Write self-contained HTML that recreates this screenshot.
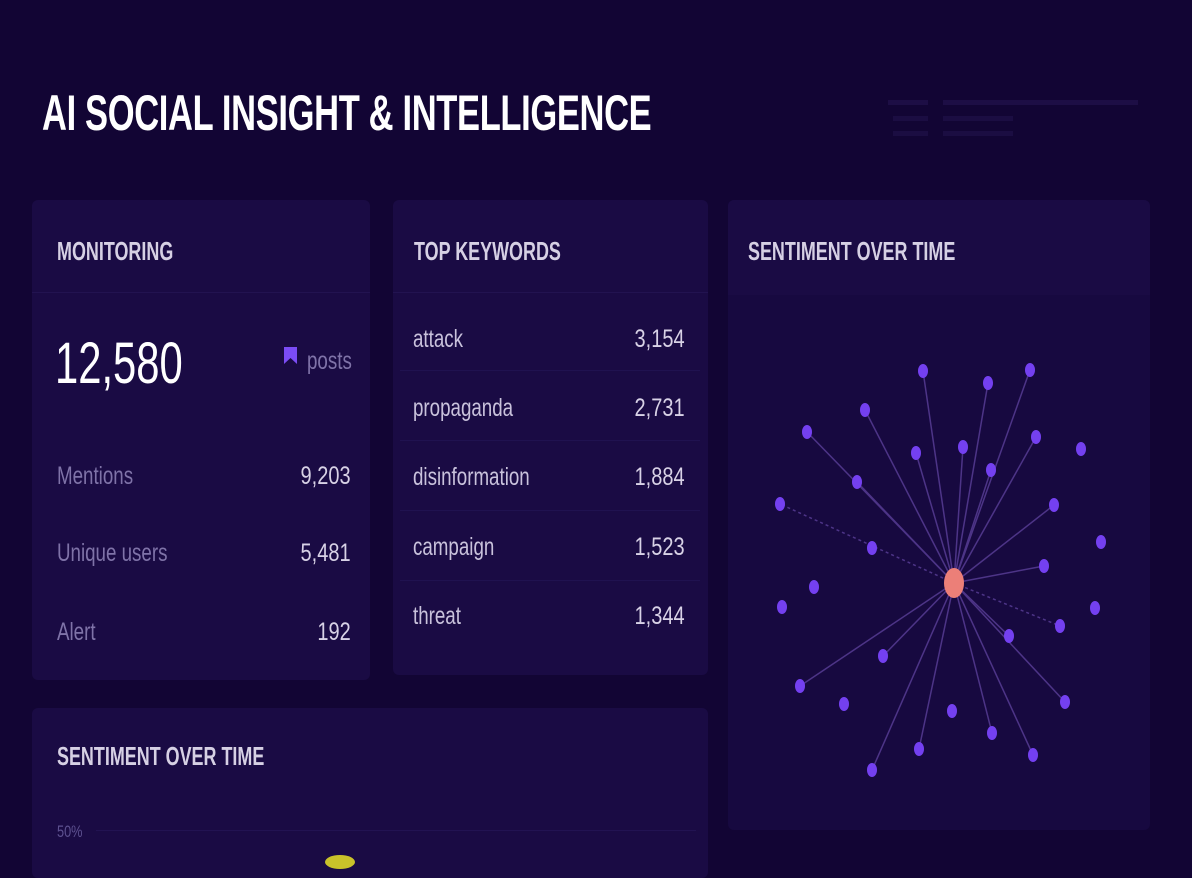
<!DOCTYPE html>
<html><head><meta charset="utf-8"><style>
body{margin:0;width:1192px;height:862px;background:#120534;overflow:hidden;position:relative;font-family:"Liberation Sans",sans-serif}
.a{position:absolute;white-space:nowrap;transform-origin:0 0}
.card{position:absolute;background:#1a0b44;border-radius:6px}
.hd{color:#d6d0e4;font-size:26px;font-weight:bold;transform:scaleX(0.69)}
.lb{color:#7f73a8;font-size:25px;transform:scaleX(0.75)}
.kw{color:#c9c2dc;font-size:25px;transform:scaleX(0.75)}
.num{color:#d8d2e6;font-size:25px;transform:scaleX(0.8);transform-origin:100% 0}
</style></head><body>
<div class="a" style="left:42px;top:84px;color:#fff;font-size:50px;font-weight:bold;transform:scaleX(0.69);letter-spacing:-0.5px">AI SOCIAL INSIGHT &amp; INTELLIGENCE</div>
<div class="a" style="left:888px;top:100px;width:40px;height:5px;background:#1d0e45"></div>
<div class="a" style="left:943px;top:100px;width:195px;height:5px;background:#1d0e45"></div>
<div class="a" style="left:893px;top:116px;width:35px;height:5px;background:#1b0d42"></div>
<div class="a" style="left:943px;top:116px;width:70px;height:5px;background:#1b0d42"></div>
<div class="a" style="left:893px;top:131px;width:35px;height:5px;background:#1b0d42"></div>
<div class="a" style="left:943px;top:131px;width:70px;height:5px;background:#1b0d42"></div>

<div class="card" style="left:32px;top:200px;width:338px;height:480px"></div>
<div class="a" style="left:32px;top:292px;width:338px;height:1px;background:#221350"></div>
<div class="card" style="left:393px;top:200px;width:315px;height:475px"></div>
<div class="a" style="left:393px;top:292px;width:315px;height:1px;background:#221350"></div>
<div class="card" style="left:728px;top:200px;width:422px;height:630px;background:#170940"></div>
<div class="a" style="left:728px;top:200px;width:422px;height:95px;background:#1a0b44;border-radius:6px 6px 0 0"></div>
<div class="card" style="left:32px;top:708px;width:676px;height:170px"></div>

<div class="a hd" style="left:57px;top:236px">MONITORING</div>
<div class="a hd" style="left:414px;top:236px">TOP KEYWORDS</div>
<div class="a hd" style="left:748px;top:236px">SENTIMENT OVER TIME</div>
<div class="a hd" style="left:57px;top:741px">SENTIMENT OVER TIME</div>

<div class="a" style="left:55px;top:330px;color:#fff;font-size:58px;transform:scaleX(0.72)">12,580</div>
<svg class="a" style="left:284px;top:347px" width="14" height="18"><path d="M0 0H13V17L6.5 11L0 17Z" fill="#7b4cf5"/></svg>
<div class="a lb" style="left:307px;top:347px">posts</div>
<div class="a lb" style="left:57px;top:462px">Mentions</div>
<div class="a lb" style="left:57px;top:539px">Unique users</div>
<div class="a lb" style="left:57px;top:618px">Alert</div>
<div class="a num" style="right:841px;top:462px">9,203</div>
<div class="a num" style="right:841px;top:539px">5,481</div>
<div class="a num" style="right:841px;top:618px">192</div>

<div class="a kw" style="left:413px;top:325px">attack</div>
<div class="a kw" style="left:413px;top:394px">propaganda</div>
<div class="a kw" style="left:413px;top:463px">disinformation</div>
<div class="a kw" style="left:413px;top:533px">campaign</div>
<div class="a kw" style="left:413px;top:602px">threat</div>
<div class="a num" style="right:507px;top:325px">3,154</div>
<div class="a num" style="right:507px;top:394px">2,731</div>
<div class="a num" style="right:507px;top:463px">1,884</div>
<div class="a num" style="right:507px;top:533px">1,523</div>
<div class="a num" style="right:507px;top:602px">1,344</div>
<div class="a" style="left:400px;top:370px;width:300px;height:1px;background:#201250"></div>
<div class="a" style="left:400px;top:440px;width:300px;height:1px;background:#201250"></div>
<div class="a" style="left:400px;top:510px;width:300px;height:1px;background:#201250"></div>
<div class="a" style="left:400px;top:580px;width:300px;height:1px;background:#201250"></div>

<div class="a" style="left:57px;top:822px;color:#5d5190;font-size:17px;transform:scaleX(0.75)">50%</div>
<div class="a" style="left:96px;top:830px;width:600px;height:1px;background:#221352"></div>
<div class="a" style="left:325px;top:855px;width:30px;height:14px;border-radius:50%;background:#c9c22a"></div>

<svg class="a" style="left:0;top:0" width="1192" height="862">
<g stroke="#6a4cae" stroke-width="1.5" opacity="0.65">
<line x1="954" y1="583" x2="923" y2="371"/><line x1="954" y1="583" x2="988" y2="383"/><line x1="954" y1="583" x2="1030" y2="370"/>
<line x1="954" y1="583" x2="865" y2="410"/><line x1="954" y1="583" x2="807" y2="432"/><line x1="954" y1="583" x2="916" y2="453"/>
<line x1="954" y1="583" x2="963" y2="447"/><line x1="954" y1="583" x2="991" y2="470"/><line x1="954" y1="583" x2="1036" y2="437"/>
<line x1="954" y1="583" x2="857" y2="482"/><line x1="954" y1="583" x2="780" y2="504" stroke-dasharray="3 3"/><line x1="954" y1="583" x2="1054" y2="505"/>
<line x1="954" y1="583" x2="1044" y2="566"/><line x1="954" y1="583" x2="1060" y2="626" stroke-dasharray="3 3"/>
<line x1="954" y1="583" x2="1009" y2="636"/><line x1="954" y1="583" x2="883" y2="656"/><line x1="954" y1="583" x2="800" y2="686"/>
<line x1="954" y1="583" x2="992" y2="733"/><line x1="954" y1="583" x2="1065" y2="702"/><line x1="954" y1="583" x2="919" y2="749"/>
<line x1="954" y1="583" x2="1033" y2="755"/><line x1="954" y1="583" x2="872" y2="770"/>
</g>
<g fill="#7440f0">
<ellipse cx="923" cy="371" rx="5" ry="7"/><ellipse cx="988" cy="383" rx="5" ry="7"/><ellipse cx="1030" cy="370" rx="5" ry="7"/>
<ellipse cx="865" cy="410" rx="5" ry="7"/><ellipse cx="807" cy="432" rx="5" ry="7"/><ellipse cx="916" cy="453" rx="5" ry="7"/>
<ellipse cx="963" cy="447" rx="5" ry="7"/><ellipse cx="991" cy="470" rx="5" ry="7"/><ellipse cx="1036" cy="437" rx="5" ry="7"/>
<ellipse cx="1081" cy="449" rx="5" ry="7"/><ellipse cx="857" cy="482" rx="5" ry="7"/><ellipse cx="780" cy="504" rx="5" ry="7"/>
<ellipse cx="1054" cy="505" rx="5" ry="7"/><ellipse cx="872" cy="548" rx="5" ry="7"/><ellipse cx="1101" cy="542" rx="5" ry="7"/>
<ellipse cx="1044" cy="566" rx="5" ry="7"/><ellipse cx="814" cy="587" rx="5" ry="7"/><ellipse cx="782" cy="607" rx="5" ry="7"/>
<ellipse cx="1060" cy="626" rx="5" ry="7"/><ellipse cx="1095" cy="608" rx="5" ry="7"/><ellipse cx="1009" cy="636" rx="5" ry="7"/>
<ellipse cx="883" cy="656" rx="5" ry="7"/><ellipse cx="800" cy="686" rx="5" ry="7"/><ellipse cx="844" cy="704" rx="5" ry="7"/>
<ellipse cx="952" cy="711" rx="5" ry="7"/><ellipse cx="992" cy="733" rx="5" ry="7"/><ellipse cx="1065" cy="702" rx="5" ry="7"/>
<ellipse cx="919" cy="749" rx="5" ry="7"/><ellipse cx="1033" cy="755" rx="5" ry="7"/><ellipse cx="872" cy="770" rx="5" ry="7"/>
</g>
<ellipse cx="954" cy="583" rx="10" ry="15" fill="#ec7f78"/>
</svg>
</body></html>
